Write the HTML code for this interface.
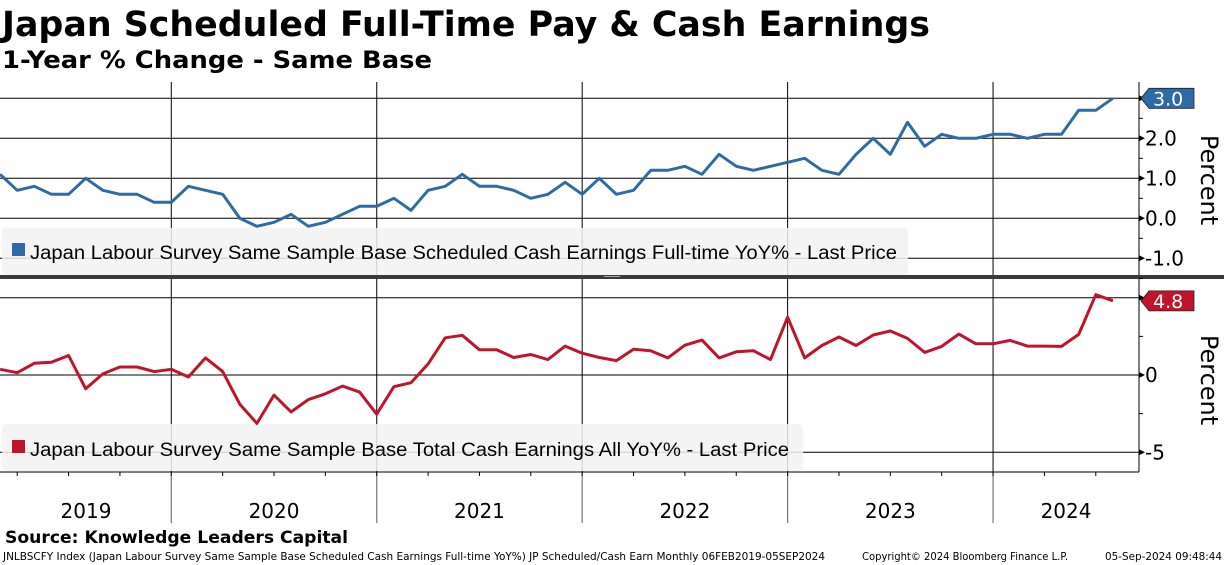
<!DOCTYPE html>
<html><head><meta charset="utf-8"><style>
html,body{margin:0;padding:0;background:#fff;}
svg{display:block;font-family:"DejaVu Sans","Liberation Sans",sans-serif;}
</style></head><body>
<svg id="chart" width="1224" height="565" viewBox="0 0 1224 565" xmlns="http://www.w3.org/2000/svg">
<text x="2" y="36" font-size="35" font-weight="bold" textLength="928" lengthAdjust="spacingAndGlyphs">Japan Scheduled Full-Time Pay &amp; Cash Earnings</text>
<text x="2" y="68" font-size="24" font-weight="bold" textLength="430" lengthAdjust="spacingAndGlyphs">1-Year % Change - Same Base</text>
<g id="grid"></g>
<rect x="2" y="228" width="906" height="47" rx="4" fill="#f2f2f2" fill-opacity="0.85"/>
<rect x="12" y="243" width="13" height="13" fill="#2d6aa6"/>
<text x="30" y="259" font-size="19" textLength="867" lengthAdjust="spacingAndGlyphs" font-family="Liberation Sans, sans-serif">Japan Labour Survey Same Sample Base Scheduled Cash Earnings Full-time YoY% - Last Price</text>
<rect x="2" y="424" width="801" height="47" rx="4" fill="#f2f2f2" fill-opacity="0.85"/>
<rect x="12" y="440" width="13" height="13" fill="#c0142c"/>
<text x="30" y="456" font-size="19" textLength="759" lengthAdjust="spacingAndGlyphs" font-family="Liberation Sans, sans-serif">Japan Labour Survey Same Sample Base Total Cash Earnings All YoY% - Last Price</text>
<g id="series"></g>
<rect x="0" y="275" width="1224" height="4" fill="#3a3a3a"/>
<rect x="604" y="276" width="16" height="1" fill="#aaa"/>
<g id="axes"></g>
<text x="5" y="543" font-size="17" font-weight="bold" textLength="343" lengthAdjust="spacingAndGlyphs">Source: Knowledge Leaders Capital</text>
<text x="3" y="560" font-size="10.5" textLength="822" lengthAdjust="spacingAndGlyphs">JNLBSCFY Index (Japan Labour Survey Same Sample Base Scheduled Cash Earnings Full-time YoY%) JP Scheduled/Cash Earn  Monthly 06FEB2019-05SEP2024</text>
<text x="862" y="560" font-size="10.5" textLength="206" lengthAdjust="spacingAndGlyphs">Copyright© 2024 Bloomberg Finance L.P.</text>
<text x="1105" y="560" font-size="10.5" textLength="117" lengthAdjust="spacingAndGlyphs">05-Sep-2024 09:48:44</text>
</svg>
<script>
const monthStart = 2; // months since Jan 2019 (Mar 2019)
const years = ["2019","2020","2021","2022","2023","2024"];
const scheduledYoY = [1.1,0.7,0.8,0.6,0.6,1.0,0.7,0.6,0.6,0.4,0.4,0.8,0.7,0.6,0.0,-0.2,-0.1,0.1,-0.2,-0.1,0.1,0.3,0.3,0.5,0.2,0.7,0.8,1.1,0.8,0.8,0.7,0.5,0.6,0.9,0.6,1.0,0.6,0.7,1.2,1.2,1.3,1.1,1.6,1.3,1.2,1.3,1.4,1.5,1.2,1.1,1.6,2.0,1.6,2.4,1.8,2.1,2.0,2.0,2.1,2.1,2.0,2.1,2.1,2.7,2.7,3.0];
const totalYoY = [0.37,0.15,0.76,0.83,1.26,-0.89,0.07,0.52,0.52,0.22,0.37,-0.13,1.11,0.22,-1.89,-3.13,-1.3,-2.39,-1.59,-1.22,-0.72,-1.11,-2.54,-0.76,-0.5,0.72,2.41,2.57,1.63,1.63,1.13,1.33,1.0,1.87,1.41,1.13,0.93,1.67,1.57,1.11,1.93,2.26,1.11,1.5,1.57,1.0,3.74,1.11,1.91,2.46,1.91,2.59,2.85,2.37,1.46,1.85,2.65,2.02,2.02,2.24,1.87,1.87,1.85,2.63,5.2,4.8];
const topTicks = ["3.0","2.0","1.0","0.0","-1.0"];
const topTickVals = [3,2,1,0,-1];
const botTicks = ["","0","-5"];
const botTickVals = [5,0,-5];
const topLast = "3.0", botLast = "4.8";

const NS="http://www.w3.org/2000/svg";
const AX=1139;
function xm(m){return 171.3+(m-12)*17.12;}
function yTop(v){return 218.3-v*40;}
function yBot(v){return 375-v*15.45;}
function mk(tag,attrs,parent){const e=document.createElementNS(NS,tag);for(const k in attrs)e.setAttribute(k,attrs[k]);parent.appendChild(e);return e;}
const grid=document.getElementById('grid'), series=document.getElementById('series'), axes=document.getElementById('axes');

years.forEach((y,i)=>{
  const x=xm(12*i);
  if(i>0){
    let l=mk('line',{x1:x,x2:x,y1:82,y2:472,stroke:'#000','stroke-width':1},grid);
    
    
    let l2=mk('line',{x1:x,x2:x,y1:472,y2:523,stroke:'#777','stroke-width':1.2},grid);
    
    
  }
  const t=mk('text',{x:(xm(12*i)+Math.min(xm(12*i+12),AX))/2,y:518,'font-size':20,'text-anchor':'middle'},axes);
  if(i===0) t.setAttribute('x',86);
  t.textContent=y;
  
  
});
for(let m=0;m<=72;m+=3){const x=xm(m); if(x<0||x>AX)continue;
  let t=mk('line',{x1:x,x2:x,y1:472,y2:476,stroke:'#000'},axes);
  
  
}
let xa=mk('line',{x1:0,x2:AX,y1:472,y2:472,stroke:'#000','stroke-width':1},axes);



function panel(vals,labels,yf,name,minorStep,lo,hi){
  vals.forEach((v,i)=>{
    const y=yf(v);
    let g=mk('line',{x1:0,x2:AX,y1:y,y2:y,stroke:'#000','stroke-width':1},grid);
    
    
    let tr=mk('path',{d:`M${AX} ${y-3}L${AX+6} ${y}L${AX} ${y+3}Z`,fill:'#000'},axes);
    
    
    if(labels[i]){
      let t=mk('text',{x:AX+6,y:y+7,'font-size':20},axes);
      t.textContent=labels[i];
      
      
    }
  });
  for(let v=lo;v<=hi+1e-9;v+=minorStep){const y=yf(v);
    let t=mk('line',{x1:AX,x2:AX+4,y1:y,y2:y,stroke:'#000'},axes);
    
    }
}
panel(topTickVals,topTicks,yTop,'top-y',0.5,-1.5,3.0);
panel(botTickVals,botTicks,yBot,'bottom-y',2.5,-5,5);

let ya1=mk('line',{x1:AX,x2:AX,y1:82,y2:275,stroke:'#000'},axes);


let ya2=mk('line',{x1:AX,x2:AX,y1:279,y2:472,stroke:'#000'},axes);



function line(vals,yf,color,name){
  const d=vals.map((v,i)=>(i?'L':'M')+xm(monthStart+i).toFixed(1)+' '+yf(v).toFixed(1)).join('');
  let p=mk('path',{d:d,fill:'none',stroke:color,'stroke-width':3,'stroke-linejoin':'round'},series);
  
  
}
line(scheduledYoY,yTop,'#2d6aa6','scheduled-earnings-line');
line(totalYoY,yBot,'#c0142c','total-earnings-line');

function lastBox(v,yf,txt,color,name){
  const y=yf(v);
  let p=mk('path',{d:`M${AX+2} ${y}L${AX+10} ${y-10}H${AX+55}V${y+10}H${AX+10}Z`,fill:color,stroke:'#222','stroke-width':0.8},axes);
  
  
  let t=mk('text',{x:AX+14,y:y+7,'font-size':19,fill:'#fff'},axes);
  t.textContent=txt;
  
  
}
lastBox(scheduledYoY[scheduledYoY.length-1],yTop,topLast,'#2d6aa6','top-last-value');
lastBox(totalYoY[totalYoY.length-1],yBot,botLast,'#c0142c','bottom-last-value');

[[180,'top-y-axis-title'],[380,'bottom-y-axis-title']].forEach(([cy,n])=>{
  let t=mk('text',{x:0,y:0,'font-size':24,'text-anchor':'middle',transform:`translate(1201 ${cy}) rotate(90)`},axes);
  t.textContent='Percent';
  
  
});
</script>
</body></html>
